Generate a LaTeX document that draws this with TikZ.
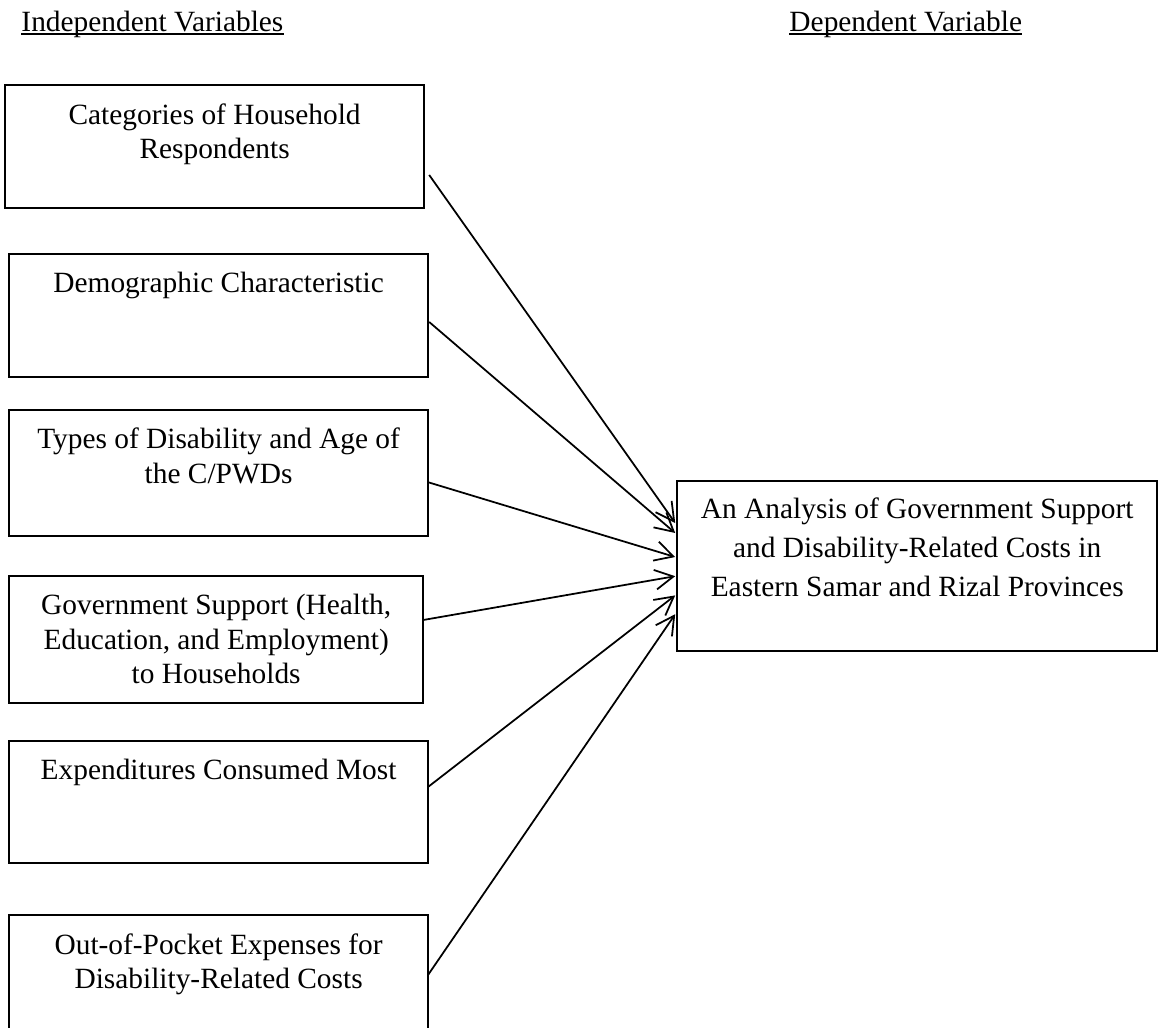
\documentclass[tikz,border=0pt]{standalone}
\usepackage{fontspec}
\setmainfont{Liberation Serif}
\usetikzlibrary{arrows.meta}

\begin{document}
\begin{tikzpicture}[x=1cm,y=1cm,
  varbox/.style={draw,line width=1.5pt,inner sep=0pt,outer sep=0pt,anchor=north west},
  vartext/.style={anchor=north,align=center,inner sep=0pt,font=\fontsize{20.9pt}{24.5pt}\selectfont},
  headtext/.style={anchor=base west,inner sep=0pt,font=\fontsize{20.9pt}{24.5pt}\selectfont},
  flow/.style={line width=1.25pt,-{Straight Barb[length=13pt,width=14pt]}}]
\path[use as bounding box] (0,0) rectangle (29.05,25.68);
\node[headtext] (indep) at (0.53,24.90) {Independent Variables};
\draw[line width=1.2pt] ([yshift=-0.07cm]indep.base west) -- ([yshift=-0.07cm]indep.base east);
\node[headtext] (dep) at (19.73,24.90) {Dependent Variable};
\draw[line width=1.2pt] ([yshift=-0.07cm]dep.base west) -- ([yshift=-0.07cm]dep.base east);
\node[varbox,minimum width=10.47cm,minimum height=3.07cm] (b1) at (0.13,23.55) {};
\node[vartext] (t1) at ([yshift=-0.45cm]b1.north) {Categories of Household\\Respondents};
\node[varbox,minimum width=10.47cm,minimum height=3.08cm] (b2) at (0.23,19.33) {};
\node[vartext] (t2) at ([yshift=-0.45cm]b2.north) {Demographic Characteristic};
\node[varbox,minimum width=10.47cm,minimum height=3.15cm] (b3) at (0.23,15.43) {};
\node[vartext] (t3) at ([yshift=-0.45cm]b3.north) {Types of Disability and Age of\\the C/PWDs};
\node[varbox,minimum width=10.35cm,minimum height=3.18cm] (b4) at (0.23,11.28) {};
\node[vartext] (t4) at ([yshift=-0.45cm]b4.north) {Government Support (Health,\\Education, and Employment)\\to Households};
\node[varbox,minimum width=10.47cm,minimum height=3.05cm] (b5) at (0.23,7.15) {};
\node[vartext] (t5) at ([yshift=-0.45cm]b5.north) {Expenditures Consumed Most};
\node[varbox,minimum width=10.47cm,minimum height=3.13cm] (b6) at (0.23,2.80) {};
\node[vartext] (t6) at ([yshift=-0.45cm]b6.north) {Out-of-Pocket Expenses for\\Disability-Related Costs};
\node[varbox,minimum width=12.00cm,minimum height=4.25cm] (dv) at (16.93,13.65) {};
\node[vartext,font=\fontsize{20.9pt}{27.7pt}\selectfont] (tdv) at ([yshift=-0.40cm]dv.north) {An Analysis of Government Support\\and Disability-Related Costs in\\Eastern Samar and Rizal Provinces};
\draw[flow] ([shift={(0.13,-0.71)}]b1.east) -- ([shift={(-0.05,1.08)}]dv.west);
\draw[flow] ([shift={(0.03,-0.16)}]b2.east) -- ([shift={(-0.05,0.83)}]dv.west);
\draw[flow] ([shift={(0,-0.23)}]b3.east) -- ([shift={(-0.05,0.23)}]dv.west);
\draw[flow] ([shift={(0,0.49)}]b4.east) -- ([shift={(-0.05,-0.25)}]dv.west);
\draw[flow] ([shift={(0,0.38)}]b5.east) -- ([shift={(-0.05,-0.73)}]dv.west);
\draw[flow] ([shift={(0,0.07)}]b6.east) -- ([shift={(-0.05,-1.20)}]dv.west);
\end{tikzpicture}
\end{document}
